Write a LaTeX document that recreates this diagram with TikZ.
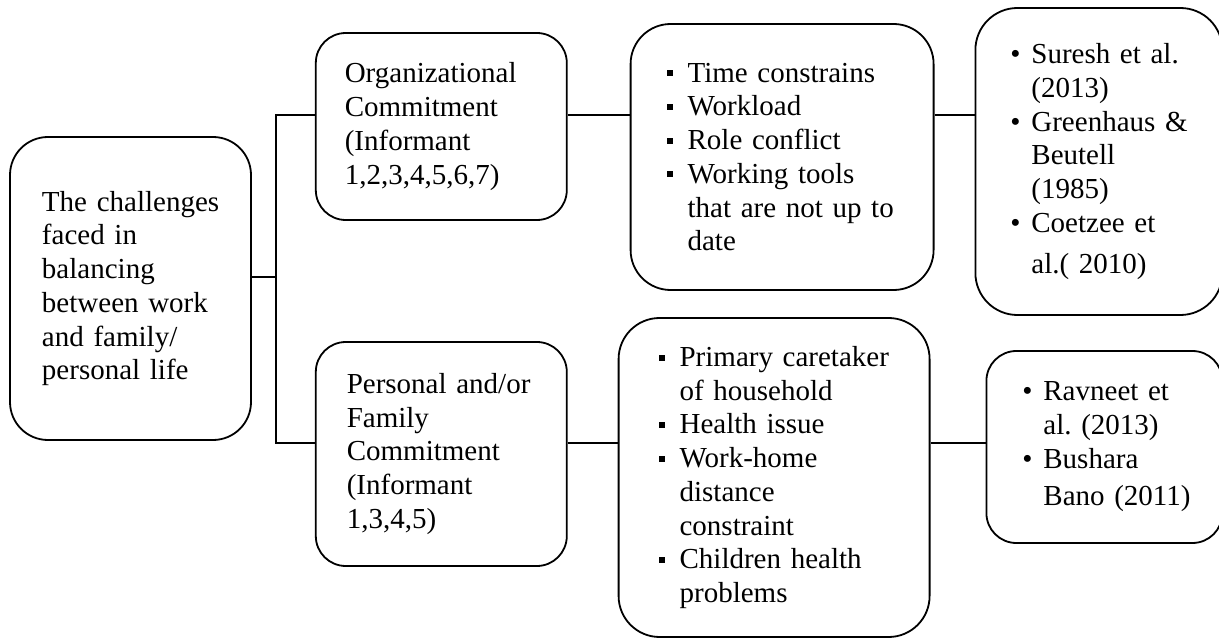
\documentclass[tikz,border=0pt]{standalone}
\usepackage{fontspec}
\setmainfont{Liberation Serif}
\usetikzlibrary{positioning}

\newcommand{\sqbul}{\makebox[21pt][l]{\rule[6pt]{6pt}{6pt}}}
\newcommand{\dotbul}{\makebox[21pt][l]{\textbullet}}
\newcommand{\contd}{\hspace*{21pt}}

\begin{document}
\begin{tikzpicture}[
  x=1pt, y=-1pt,
  box/.style={draw, line width=1.8pt, rounded corners=30pt, align=left, inner sep=0pt, font=\fontsize{29}{33.7}\selectfont},
  pad/.style={execute at begin node={\leftskip=#1}},
  link/.style={line width=1.8pt}
]
\useasboundingbox (0,0) rectangle (1219,639);
\node[box, pad=32pt, rounded corners=38pt, text width=241pt, minimum height=303pt] (root) at (130.5,288.5)
  {The challenges\\faced in\\balancing\\between work\\and family/\\personal life};
\node[box, pad=29pt, text width=251pt, minimum height=187pt, right=63pt of root, yshift=162pt] (org)
  {Organizational\\Commitment\\(Informant\\1,2,3,4,5,6,7)};
\node[box, pad=31pt, text width=251pt, minimum height=224pt, right=63pt of root, yshift=-165.5pt] (pers)
  {Personal and/or\\Family\\Commitment\\(Informant\\1,3,4,5)};
\node[box, pad=36pt, rounded corners=40pt, text width=303pt, minimum height=266pt, right=62pt of org, yshift=-30.5pt] (time)
  {\sqbul Time constrains\\ \sqbul Workload\\ \sqbul Role conflict\\ \sqbul Working tools\\ \contd that are not up to\\ \contd date};
\node[box, pad=40pt, rounded corners=41pt, text width=311pt, minimum height=319pt, right=50pt of pers, yshift=-23.5pt] (plist)
  {\sqbul Primary caretaker\\ \contd of household\\ \sqbul Health issue\\ \sqbul Work-home\\ \contd distance\\ \contd constraint\\ \sqbul Children health\\ \contd problems};
\node[box, pad=35pt, rounded corners=42pt, text width=247pt, minimum height=307pt, right=40pt of time, yshift=-4.5pt] (suresh)
  {\dotbul Suresh et al.\\ \contd (2013)\\ \dotbul Greenhaus \&\\ \contd Beutell\\ \contd (1985)\\ \dotbul Coetzee et\\[7pt] \contd al.( 2010)};
\node[box, pad=36pt, text width=236pt, minimum height=192pt, right=55pt of plist, yshift=30.5pt] (ravneet)
  {\dotbul Ravneet et\\ \contd al.\ (2013)\\ \dotbul Bushara\\[4pt] \contd Bano (2011)};
\coordinate (split) at (276,277);
\coordinate (hi) at (276,115);
\coordinate (lo) at (276,443);
\draw[link] (root.east |- split) -- (split);
\draw[link] (org.west |- hi) -- (hi) -- (lo) -- (pers.west |- lo);
\draw[link] (org.east |- hi) -- (time.west |- hi);
\draw[link] (time.east |- hi) -- (suresh.west |- hi);
\draw[link] (pers.east |- lo) -- (plist.west |- lo);
\draw[link] (plist.east |- lo) -- (ravneet.west |- lo);
\end{tikzpicture}
\end{document}
